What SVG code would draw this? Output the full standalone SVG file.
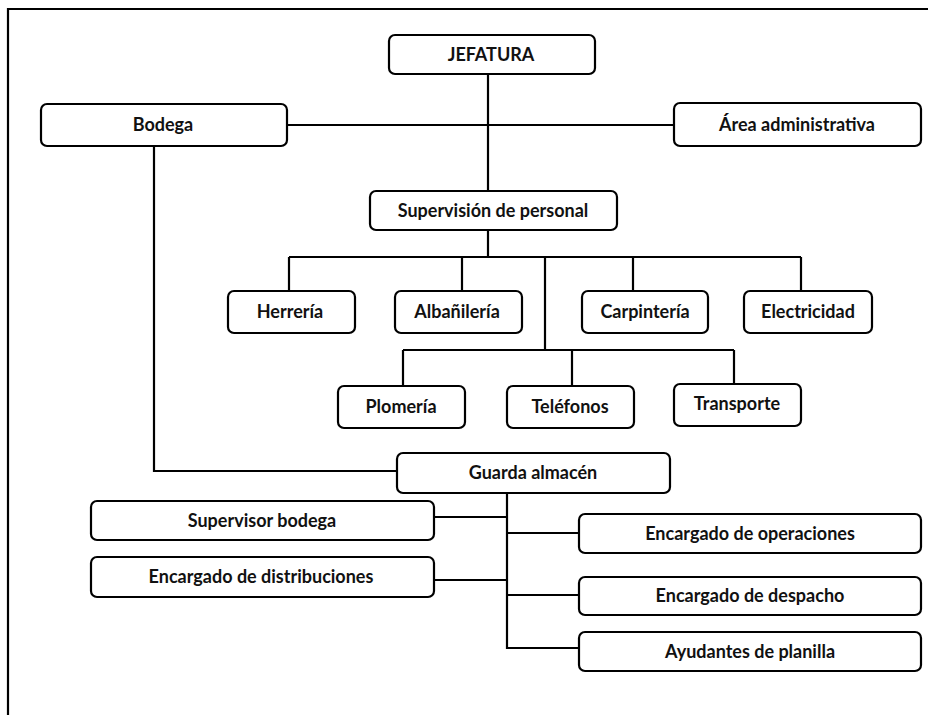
<svg xmlns="http://www.w3.org/2000/svg" width="928" height="715" viewBox="0 0 928 715">
<style>
.box{fill:#fff;stroke:#000;stroke-width:2.2}
.lbl{font-family:Lato,"Liberation Sans",sans-serif;font-weight:bold;font-size:18px;fill:#111;text-anchor:middle}
.ln{fill:none;stroke:#000;stroke-width:2.2}
</style>
<rect width="928" height="715" fill="#fff"/>
<path class="ln" d="M8,715 V9 H928"/>
<g id="connectors">
<path class="ln" d="M488,74 V191"/>
<path class="ln" d="M287,125 H674"/>
<path class="ln" d="M488,230 V257 M289,257 H801 M289,257 V291 M462,257 V291 M633,257 V291 M801,257 V291"/>
<path class="ln" d="M545,257 V350 M403,350 H734 M403,350 V386 M572,350 V386 M734,350 V384"/>
<path class="ln" d="M154,146 V471 H397"/>
<path class="ln" d="M507,493 V648 H579 M507,533 H579 M507,595 H579 M434,517 H507 M434,580 H507"/>
</g>
<g id="jefatura"><rect class="box" x="389" y="35" width="206" height="39" rx="6"/><text class="lbl" x="491" y="61">JEFATURA</text></g>
<g id="bodega"><rect class="box" x="41" y="104" width="246" height="42" rx="6"/><text class="lbl" x="163" y="131">Bodega</text></g>
<g id="area-admin"><rect class="box" x="674" y="103" width="247" height="43" rx="6"/><text class="lbl" x="797" y="131">Área administrativa</text></g>
<g id="supervision"><rect class="box" x="370" y="191" width="247" height="39" rx="6"/><text class="lbl" x="493" y="217">Supervisión de personal</text></g>
<g id="herreria"><rect class="box" x="228" y="291" width="127" height="42" rx="6"/><text class="lbl" x="290" y="318">Herrería</text></g>
<g id="albanileria"><rect class="box" x="395" y="291" width="127" height="42" rx="6"/><text class="lbl" x="457" y="318">Albañilería</text></g>
<g id="carpinteria"><rect class="box" x="582" y="291" width="126" height="42" rx="6"/><text class="lbl" x="645" y="318">Carpintería</text></g>
<g id="electricidad"><rect class="box" x="744" y="291" width="128" height="42" rx="6"/><text class="lbl" x="808" y="318">Electricidad</text></g>
<g id="plomeria"><rect class="box" x="338" y="386" width="127" height="42" rx="6"/><text class="lbl" x="401" y="413">Plomería</text></g>
<g id="telefonos"><rect class="box" x="507" y="386" width="127" height="42" rx="6"/><text class="lbl" x="570" y="413">Teléfonos</text></g>
<g id="transporte"><rect class="box" x="674" y="384" width="127" height="42" rx="6"/><text class="lbl" x="737" y="410">Transporte</text></g>
<g id="guarda"><rect class="box" x="397" y="453" width="273" height="40" rx="6"/><text class="lbl" x="533" y="479">Guarda almacén</text></g>
<g id="supervisor-bodega"><rect class="box" x="91" y="501" width="343" height="39" rx="6"/><text class="lbl" x="262" y="527">Supervisor bodega</text></g>
<g id="distribuciones"><rect class="box" x="91" y="557" width="343" height="40" rx="6"/><text class="lbl" x="261" y="583">Encargado de distribuciones</text></g>
<g id="operaciones"><rect class="box" x="579" y="514" width="342" height="39" rx="6"/><text class="lbl" x="750" y="540">Encargado de operaciones</text></g>
<g id="despacho"><rect class="box" x="579" y="577" width="342" height="38" rx="6"/><text class="lbl" x="750" y="602">Encargado de despacho</text></g>
<g id="ayudantes"><rect class="box" x="579" y="632" width="342" height="39" rx="6"/><text class="lbl" x="750" y="658">Ayudantes de planilla</text></g>
</svg>
